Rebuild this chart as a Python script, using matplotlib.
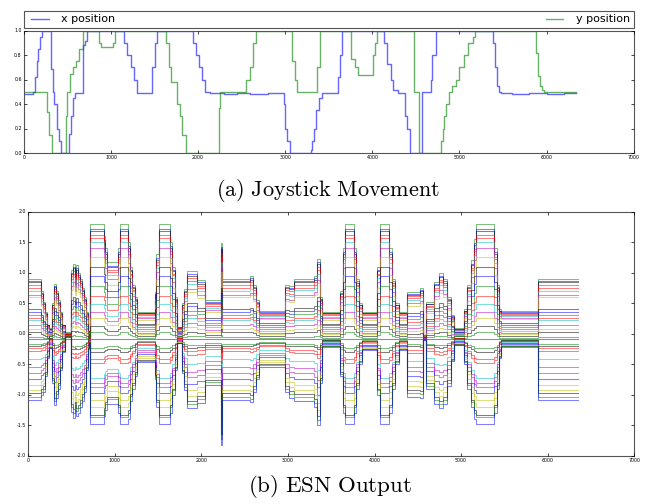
import numpy as np
import matplotlib
matplotlib.use('Agg')
import matplotlib.pyplot as plt

try:
    plt.style.use('classic')
except Exception:
    pass
matplotlib.rcParams.update({'mathtext.fontset': 'cm'})

# --- joystick input: breakpoints (time step, value)
x_t = [0, 100, 110, 125, 145, 165, 185, 210, 310, 330, 350, 375, 400, 425,
       517, 535, 560, 585, 680, 700, 720, 1150, 1185, 1225, 1260, 1300,
       1470, 1500, 1530, 1945, 1980, 2010, 2040, 2075, 2140, 2300, 2450,
       2600, 2800, 2980, 3000, 3020, 3050, 3295, 3310, 3330, 3355, 3390,
       3420, 3600, 3625, 3655, 4134, 4170, 4210, 4240, 4290, 4375, 4400,
       4430, 4567, 4575, 4670, 4690, 4736, 5379, 5405, 5436, 5455, 5474,
       5600, 5800, 6000, 6200, 6340]
x_v = [0.48, 0.49, 0.50, 0.62, 0.75, 0.85, 0.95, 1.00, 0.69, 0.50, 0.40,
       0.20, 0.10, 0.00, 0.16, 0.30, 0.45, 0.49, 0.88, 0.92, 1.00, 0.90,
       0.80, 0.70, 0.60, 0.49, 0.70, 0.90, 1.00, 0.90, 0.80, 0.70, 0.60,
       0.50, 0.49, 0.48, 0.49, 0.48, 0.49, 0.40, 0.20, 0.10, 0.00, 0.03,
       0.10, 0.20, 0.35, 0.45, 0.49, 0.62, 0.80, 1.00, 0.90, 0.73, 0.60,
       0.52, 0.49, 0.30, 0.20, 0.00, 0.30, 0.50, 0.60, 0.80, 1.00, 0.90,
       0.70, 0.55, 0.50, 0.49, 0.48, 0.49, 0.48, 0.49, 0.49]

y_t = [0, 262, 285, 320, 479, 495, 530, 560, 595, 635, 680, 860, 885, 1026,
       1050, 1628, 1660, 1690, 1755, 1795, 1815, 1860, 2235, 2255, 2555,
       2590, 2625, 2660, 3080, 3110, 3140, 3360, 3395, 3750, 3800, 3840,
       4008, 4030, 4057, 4480, 4540, 4785, 4805, 4825, 4845, 4880, 4915,
       4955, 5000, 5050, 5100, 5150, 5180, 5877, 5900, 5925, 5950, 5975,
       6340]
y_v = [0.50, 0.34, 0.15, 0.00, 0.30, 0.50, 0.65, 0.70, 0.75, 0.85, 1.00,
       0.90, 0.87, 0.90, 1.00, 0.90, 0.70, 0.58, 0.40, 0.30, 0.15, 0.00,
       0.37, 0.50, 0.60, 0.70, 0.90, 1.00, 0.75, 0.60, 0.50, 0.70, 1.00,
       0.77, 0.70, 0.64, 0.80, 0.90, 1.00, 0.50, 0.00, 0.10, 0.20, 0.30,
       0.40, 0.50, 0.55, 0.60, 0.70, 0.80, 0.90, 0.95, 1.00, 0.82, 0.63,
       0.55, 0.52, 0.50, 0.50]

# --- ESN output: envelope of the bundle (top line, centre line, bottom line)
# and how "spread" the bundle looks (1 = like the tall blocks, 0 = like t=0)
env_t = [0, 150, 175, 195, 215, 240, 275, 295, 320, 340, 365, 390, 420, 480,
         495, 520, 535, 555, 575, 600, 625, 645, 665, 685, 700, 715, 870,
         890, 910, 1040, 1060, 1150, 1175, 1200, 1230, 1260, 1460, 1480,
         1510, 1640, 1665, 1690, 1715, 1780, 1800, 1830, 1950, 2040, 2225,
         2240, 2560, 2600, 2630, 2660, 2970, 3010, 3070, 3300, 3340, 3370,
         3395, 3600, 3630, 3660, 3760, 3790, 3820, 3850, 4030, 4060, 4165,
         4200, 4240, 4280, 4380, 4530, 4560, 4590, 4685, 4740, 4790, 4840,
         4880, 4915, 5030, 5070, 5110, 5150, 5170, 5380, 5410, 5440, 5460,
         5890, 6345]
env_top = [0.90, 0.70, 0.52, 0.35, 0.15, 0.09, 0.50, 0.82, 0.70, 0.55, 0.35,
           0.15, 0.02, 0.02, 1.05, 1.15, 0.95, 1.12, 1.00, 0.90, 0.75, 0.60,
           0.35, 0.05, -0.05, 1.80, 1.60, 1.40, 1.17, 1.40, 1.80, 1.50,
           1.10, 0.80, 0.60, 0.36, 0.69, 1.30, 1.80, 1.50, 1.10, 0.60, 0.11,
           0.50, 0.74, 1.02, 0.88, 0.55, 1.48, 0.90, 0.95, 0.80, 0.55, 0.37,
           0.80, 0.78, 0.90, 0.95, 1.23, 0.60, 0.36, 0.70, 1.40, 1.80, 1.40,
           0.90, 0.50, 0.36, 1.10, 1.80, 1.40, 0.90, 0.50, 0.36, 0.69, 0.75,
           -0.02, 0.52, 0.85, 0.99, 0.90, 0.60, 0.30, 0.09, 0.40, 0.80, 1.20,
           1.55, 1.80, 1.40, 0.80, 0.40, 0.37, 0.90, 0.90]
env_bot = [-1.09, -1.00, -0.95, -0.70, -0.40, -0.24, -0.80, -1.17, -1.05,
           -0.90, -0.60, -0.30, -0.05, -0.05, -1.28, -1.38, -1.25, -1.35,
           -1.30, -1.20, -1.10, -0.95, -0.60, -0.25, -0.15, -1.48, -1.35,
           -1.25, -1.16, -1.30, -1.48, -1.40, -1.10, -0.90, -0.70, -0.47,
           -0.75, -1.20, -1.48, -1.30, -1.00, -0.60, -0.16, -0.65, -0.92,
           -1.22, -1.14, -0.84, -1.83, -1.09, -1.12, -0.95, -0.75, -0.55,
           -0.95, -1.05, -1.10, -1.20, -1.50, -0.80, -0.21, -0.70, -1.30,
           -1.48, -1.30, -0.90, -0.50, -0.27, -1.00, -1.48, -1.30, -0.90,
           -0.50, -0.27, -1.03, -1.05, -0.10, -0.90, -1.15, -1.22, -1.15,
           -0.85, -0.45, -0.19, -0.50, -0.90, -1.20, -1.40, -1.48, -1.30,
           -0.90, -0.40, -0.21, -1.09, -1.09]
env_mid = [-0.09] * len(env_t)
for i, t in enumerate(env_t):
    if t in (420, 480):
        env_mid[i] = 0.0
    elif t in (240, 700, 1715, 4560, 4915):
        env_mid[i] = -0.05
env_w = [0, 0, 0, 0.5, 0.5, 0.5, 0.5, 0.5, 0.5, 0.5, 0.5, 0.5, 0.5, 0.5,
         0.5, 0.5, 0.5, 0.5, 0.5, 0.5, 0.5, 0.5, 0.5, 0.5, 0.5, 1, 1, 1, 1,
         1, 1, 1, 1, 1, 0.7, 0.5, 1, 1, 1, 1, 1, 1, 0.5, 0.5, 0.4, 0.3,
         0.3, 0.3, 0.3, 0, 0, 0.2, 0.4, 0.5, 0.3, 0.3, 0.2, 0.2, 0.2, 0.4,
         0.5, 0.8, 1, 1, 1, 1, 0.8, 0.5, 1, 1, 1, 1, 0.8, 0.5, 0.4, 0.4,
         0.5, 0.4, 0.4, 0.4, 0.4, 0.4, 0.5, 0.5, 0.8, 1, 1, 1, 1, 1, 1,
         0.8, 0.5, 0, 0]

# per-output levels: in a tall block (t~800) and in the t=0 block
lvl_wide = [1.80, 1.72, 1.68, 1.62, 1.57, 1.50, 1.40, 1.25, 1.10, 0.95, 0.78,
            0.62, 0.48, 0.35, 0.25, 0.12, 0.02, -0.09, -0.24, -0.30, -0.42,
            -0.48, -0.72, -0.80, -0.87, -0.98, -1.08, -1.20, -1.33, -1.37,
            -1.48]
lvl_centre = [0.90, 0.86, 0.84, 0.80, 0.75, 0.70, 0.63, 0.60, 0.40, 0.36,
              0.31, 0.26, 0.22, 0.15, 0.08, 0.02, -0.05, -0.09, -0.17, -0.20,
              -0.24, -0.29, -0.42, -0.55, -0.64, -0.74, -0.84, -0.92, -0.98,
              -1.04, -1.09]
out_colors = ['g', 'b', 'k', 'r', 'r', 'c', 'm', 'y', 'k', 'b', 'g', 'r', 'c',
              'm', 'y', 'k', 'g', 'b', 'g', 'k', 'r', 'r', 'c', 'm', 'm', 'b',
              'y', 'y', 'k', 'g', 'b']

CLASSIC = {'b': '#0000ff', 'g': '#008000', 'r': '#ff0000', 'c': '#00bfbf',
           'm': '#bf00bf', 'y': '#bfbf00', 'k': '#000000'}


def style_axes(ax, yticks):
    ax.set_xlim(0, 7000)
    ax.set_xticks(range(0, 7001, 1000))
    ax.set_yticks(yticks)
    ax.tick_params(labelsize=3.4, length=2.5, width=0.5, pad=1.5,
                   direction='in', top=True, right=True)
    for sp in ax.spines.values():
        sp.set_color('#555555')
        sp.set_linewidth(0.8)


fig = plt.figure(figsize=(6.46, 5.04), dpi=100, facecolor='white')

# (a) joystick movement
ax1 = fig.add_axes([0.037, 0.696, 0.944, 0.243])
ax1.plot(x_t, x_v, drawstyle='steps-post', color=CLASSIC['b'], alpha=0.6,
         lw=1.0, label='x position')
ax1.plot(y_t, y_v, drawstyle='steps-post', color=CLASSIC['g'], alpha=0.6,
         lw=1.0, label='y position')
ax1.set_ylim(0, 1)
style_axes(ax1, np.arange(0, 1.01, 0.2))
ax1.set_yticklabels(['%.1f' % v for v in np.arange(0, 1.01, 0.2)])
leg = ax1.legend(bbox_to_anchor=(0., 1.02, 1., .102), loc='lower left',
                 ncol=2, mode='expand', borderaxespad=0., fontsize=8,
                 handlelength=2.2, borderpad=0.35)
leg.get_frame().set_edgecolor('#555555')
leg.get_frame().set_linewidth(0.8)

fig.text(0.507, 0.623, r'$\mathrm{(a)\ Joystick\ Movement}$', ha='center',
         va='center', fontsize=16)

# (b) ESN output
ax2 = fig.add_axes([0.0438, 0.0958, 0.938, 0.4842])
top = np.array(env_top)
bot = np.array(env_bot)
mid = np.array(env_mid)
w = np.array(env_w)
n_up = lvl_wide.index(-0.09)
for k, col in enumerate(out_colors):
    if k < n_up:
        fw = (lvl_wide[k] + 0.09) / (1.80 + 0.09)
        fc = (lvl_centre[k] + 0.09) / (0.90 + 0.09)
        f = w * fw + (1 - w) * fc
        vals = mid + f * (top - mid)
    elif k > n_up:
        fw = (-0.09 - lvl_wide[k]) / (1.48 - 0.09)
        fc = (-0.09 - lvl_centre[k]) / (1.09 - 0.09)
        f = w * fw + (1 - w) * fc
        vals = mid - f * (mid - bot)
    else:
        vals = np.full(len(env_t), -0.09)
    ax2.plot(env_t, vals, drawstyle='steps-post', color=CLASSIC[col],
             alpha=0.5, lw=0.75)
ax2.set_ylim(-2, 2)
style_axes(ax2, np.arange(-2, 2.01, 0.5))
ax2.set_yticklabels(['%.1f' % v for v in np.arange(-2, 2.01, 0.5)])

fig.text(0.511, 0.034, r'$\mathrm{(b)\ ESN\ Output}$', ha='center',
         va='center', fontsize=16.5)

fig.savefig('out.png', dpi=100, facecolor='white')
